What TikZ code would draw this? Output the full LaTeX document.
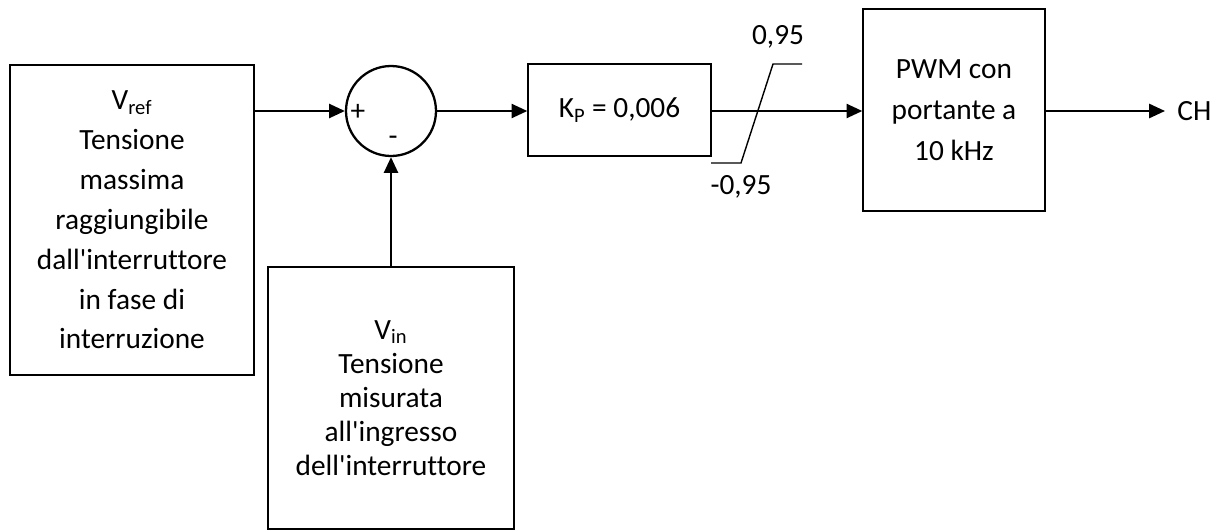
\documentclass[tikz,border=0pt]{standalone}
\usepackage{fontspec}
\setmainfont[Ligatures=NoCommon]{Carlito}
\usepackage{tikz}
\usetikzlibrary{arrows.meta}

\tikzset{
  block/.style={draw, line width=0.8pt, align=center, inner sep=0pt},
  signal/.style={line width=1.3pt, -{Triangle[length=9pt, width=8pt]}},
}
\newcommand{\ap}{\textquotesingle}

\begin{document}
\begin{tikzpicture}[x=0.02cm, y=-0.02cm, font=\fontsize{16.7}{22.7}\selectfont]
  \useasboundingbox (0,0) rectangle (1223,531);

  % reference and measured voltage
  \node[block, minimum width=4.88cm, minimum height=6.2cm] (ref) at (132,220)
    {V\textsubscript{ref}\\Tensione\\massima\\raggiungibile\\dall\ap interruttore\\in fase di\\interruzione};
  \node[block, minimum width=4.92cm, minimum height=5.24cm,
        font=\fontsize{16.7}{19.4}\selectfont] (vin) at (391,398)
    {V\textsubscript{in}\\Tensione\\misurata\\all\ap ingresso\\dell\ap interruttore};

  % summing junction
  \node[draw, circle, line width=1.3pt, minimum size=1.8cm, inner sep=0pt] (sum) at (391,111) {};
  \node at (358,112) {+};
  \node at (393,141) {-};

  % controller and modulator
  \node[block, minimum width=3.66cm, minimum height=1.84cm] (kp) at (619.5,110)
    {K\textsubscript{P} = 0,006};
  \node[block, minimum width=3.64cm, minimum height=4.04cm,
        font=\fontsize{16.7}{23.2}\selectfont] (pwm) at (954,110)
    {PWM con\\portante a\\10 kHz};
  \node[anchor=west, inner sep=0pt, inner xsep=0.24cm] (ch) at (1165,111) {CH};

  \draw[signal] (sum.west -| ref.east) -- (sum.west);
  \draw[signal] (vin.north) -- (sum.south);
  \draw[signal] (sum.east) -- (sum.east -| kp.west);
  \draw[signal] (kp.east |- sum.east) -- (pwm.west |- sum.east);
  \draw[signal] (pwm.east |- sum.east) -- (ch.west);

  % saturation
  \draw[line width=0.8pt] (711,163) -- (741,163) -- (773,64) -- (802,64);
  \node at (778,37) {0,95};
  \node at (741,187) {-0,95};
\end{tikzpicture}
\end{document}
